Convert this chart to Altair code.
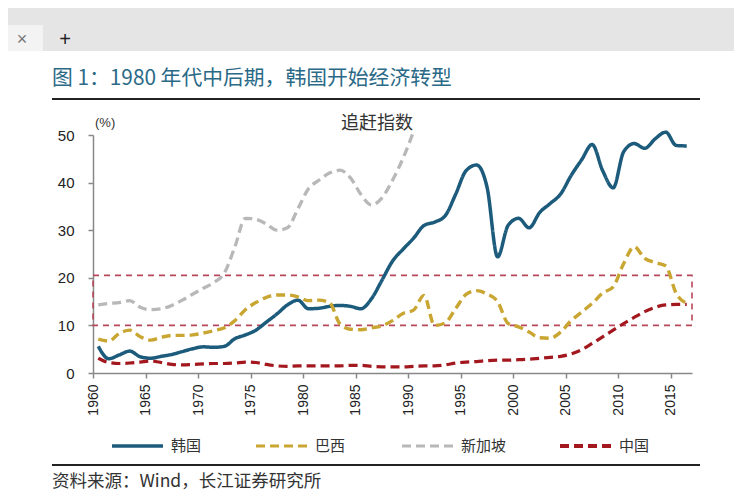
import altair as alt
import pandas as pd

# ---------------- data ----------------
years = list(range(1960, 2017))
korea = [5.6, 3.0, 3.8, 4.6, 3.4, 3.1, 3.5, 3.9, 4.5, 5.1,
         5.5, 5.4, 5.6, 7.2, 8.0, 9.0, 10.7, 12.4, 14.3, 15.3,
         13.5, 13.6, 14.0, 14.2, 14.0, 13.5, 15.6, 19.5, 23.5, 26.0,
         28.3, 31.0, 31.7, 33.0, 37.5, 42.5, 43.7, 39.0, 24.4, 31.0,
         32.5, 30.5, 33.7, 35.6, 37.6, 41.5, 44.8, 48.0, 42.5, 38.9,
         46.5, 48.2, 47.2, 49.2, 50.6, 47.8, 47.7]
brazil = [7.1, 6.7, 8.3, 9.0, 7.6, 6.9, 7.5, 7.9, 7.9, 8.0,
          8.4, 8.9, 9.5, 11.0, 13.3, 14.8, 15.9, 16.4, 16.4, 16.0,
          15.2, 15.3, 14.8, 10.3, 9.2, 9.1, 9.5, 9.9, 11.0, 12.5,
          13.2, 16.3, 10.0, 10.5, 13.5, 16.5, 17.3, 16.6, 15.0, 10.4,
          9.7, 8.6, 7.4, 7.3, 8.6, 11.0, 12.8, 14.6, 16.8, 18.1,
          23.0, 26.5, 24.1, 23.2, 22.5, 16.7, 14.6]
china = [3.1, 2.2, 2.0, 2.1, 2.3, 2.5, 2.2, 1.8, 1.7, 1.8,
         1.9, 2.0, 2.0, 2.1, 2.3, 2.2, 1.8, 1.5, 1.4, 1.5,
         1.5, 1.5, 1.5, 1.5, 1.6, 1.6, 1.4, 1.3, 1.3, 1.3,
         1.4, 1.5, 1.5, 1.7, 2.1, 2.3, 2.4, 2.6, 2.7, 2.7,
         2.8, 2.9, 3.1, 3.3, 3.5, 4.0, 4.9, 6.2, 7.6, 9.0,
         10.4, 11.7, 12.9, 13.8, 14.3, 14.4, 14.4]
singapore_years = list(range(1960, 1991))
singapore = [14.3, 14.6, 14.8, 15.2, 13.8, 13.3, 13.5, 14.2, 15.3, 16.6,
             17.8, 19.0, 21.0, 26.5, 32.5, 32.3, 31.3, 30.0, 30.5, 34.5,
             38.7, 40.5, 42.0, 42.6, 41.0, 37.5, 35.3, 36.8, 40.5, 45.1, 50.7]

names = ["韩国", "巴西", "新加坡", "中国"]
colors = ["#1d5b7c", "#c9a532", "#b8b8b8", "#a3181f"]
dashes = [[1, 0], [9, 5], [9, 5], [9, 5]]
widths = [3.5, 3.2, 3.2, 4.0]

band_x = [1960]
band_x2 = [2017]
band_lo = [10]
band_hi = [20.5]

title_text = ["图 1：1980 年代中后期，韩国开始经济转型"]
note_text = ["追赶指数"]
unit_text = ["(%)"]
source_text = ["资料来源：Wind，长江证券研究所"]
tab_text = ["×", "+"]

x_ticks = list(range(1960, 2016, 5))
y_ticks = [0, 10, 20, 30, 40, 50]

# ---------------- frames ----------------
rows = []
for name, ys, vs in [("韩国", years, korea), ("巴西", years, brazil),
                     ("新加坡", singapore_years, singapore), ("中国", years, china)]:
    for y, v in zip(ys, vs):
        rows.append({"country": name, "year": y, "value": v})
df = pd.DataFrame(rows)
band_df = pd.DataFrame({"x": band_x, "x2": band_x2, "lo": band_lo, "hi": band_hi})

CN = "'Noto Sans CJK SC', 'Noto Sans', sans-serif"
NUM = "'Liberation Sans', Arial, sans-serif"

W, H = 599, 238

xscale = alt.Scale(domain=[1960, 2017], nice=False, zero=False)
yscale = alt.Scale(domain=[0, 50], nice=False)

one = pd.DataFrame({"a": [0]})

# browser chrome strip seen at the top of the screenshot
bar = alt.Chart(one).mark_rect(fill="#e5e5e5").encode(
    x=alt.value(-85), x2=alt.value(657), y=alt.value(-127), y2=alt.value(-84))
tab = alt.Chart(one).mark_rect(fill="#f3f3f3").encode(
    x=alt.value(-85), x2=alt.value(-50), y=alt.value(-110), y2=alt.value(-84))
tab_x = alt.Chart(pd.DataFrame({"t": tab_text[:1]})).mark_text(
    fontSize=18, color="#777", font=NUM, baseline="middle", align="center"
).encode(x=alt.value(-71), y=alt.value(-95), text="t:N")
tab_plus = alt.Chart(pd.DataFrame({"t": tab_text[1:]})).mark_text(
    fontSize=20, color="#222", font=NUM, baseline="middle", align="center"
).encode(x=alt.value(-28), y=alt.value(-95), text="t:N")

band = alt.Chart(band_df).mark_rect(
    fillOpacity=0, stroke="#b8475a", strokeWidth=1.6, strokeDash=[6, 5]
).encode(
    x=alt.X("x:Q", scale=xscale),
    x2="x2:Q",
    y=alt.Y("lo:Q", scale=yscale),
    y2="hi:Q",
)

lines = alt.Chart(df).transform_calculate(
    xpos="datum.year + 0.5"
).mark_line(interpolate="monotone", strokeCap="butt").encode(
    x=alt.X("xpos:Q", scale=xscale,
            axis=alt.Axis(values=x_ticks, format="d", labelAngle=270, title=None,
                          labelFont=NUM, labelFontSize=14, labelColor="#222",
                          labelPadding=6, tickSize=5, tickColor="#888",
                          domainColor="#888", domainWidth=1.5, tickWidth=1.5,
                          grid=False)),
    y=alt.Y("value:Q", scale=yscale,
            axis=alt.Axis(values=y_ticks, title=None, labelFont=NUM,
                          labelFontSize=15, labelColor="#222", labelPadding=14,
                          tickSize=5, tickColor="#888", tickWidth=1.5,
                          domainColor="#888", domainWidth=1.5, grid=False)),
    color=alt.Color("country:N", scale=alt.Scale(domain=names, range=colors), legend=None),
    strokeDash=alt.StrokeDash("country:N", scale=alt.Scale(domain=names, range=dashes),
                              legend=None),
    strokeWidth=alt.StrokeWidth("country:N", scale=alt.Scale(domain=names, range=widths),
                                legend=None),
)

# ---- hand-built legend (one swatch + label per series) ----
leg_sym_x = [19, 163, 309, 467]
leg_sym_w = 51
leg_y = 311
legend_layers = []
for i, name in enumerate(names):
    legend_layers.append(
        alt.Chart(pd.DataFrame({"country": [name]})).mark_rule(
            color=colors[i], strokeDash=dashes[i], strokeWidth=widths[i], strokeCap="butt"
        ).encode(x=alt.value(leg_sym_x[i]), x2=alt.value(leg_sym_x[i] + leg_sym_w),
                 y=alt.value(leg_y))
    )
    legend_layers.append(
        alt.Chart(pd.DataFrame({"t": [name]})).mark_text(
            align="left", baseline="middle", fontSize=15, color="#333", font=CN
        ).encode(x=alt.value(leg_sym_x[i] + leg_sym_w + 8), y=alt.value(leg_y), text="t:N")
    )


def label(texts, x, y, size, color, font):
    return alt.Chart(pd.DataFrame({"t": texts})).mark_text(
        align="left", baseline="middle", fontSize=size, color=color, font=font
    ).encode(x=alt.value(x), y=alt.value(y), text="t:N")


title = label(title_text, -41, -56, 20.8, "#2b6a87", CN)
note = label(note_text, 248, -11, 18, "#333333", CN)
unit = label(unit_text, 2, -12, 13, "#333333", NUM)
source = label(source_text, -41, 347, 17.5, "#333333", CN)

top_rule = alt.Chart(one).mark_rule(color="#222", strokeWidth=2).encode(
    x=alt.value(-41), x2=alt.value(607), y=alt.value(-36))
bottom_rule = alt.Chart(one).mark_rule(color="#222", strokeWidth=2).encode(
    x=alt.value(-41), x2=alt.value(607), y=alt.value(330))

chart = alt.layer(
    bar, tab, tab_x, tab_plus,
    band, lines, *legend_layers, title, note, unit, source, top_rule, bottom_rule
).properties(
    width=W, height=H,
    autosize=alt.AutoSizeParams(type="none"),
    padding={"left": 85, "top": 127, "right": 42, "bottom": 119},
).configure_view(stroke=None)

chart.save("out.html", embed_options={"renderer": "svg", "actions": False})
